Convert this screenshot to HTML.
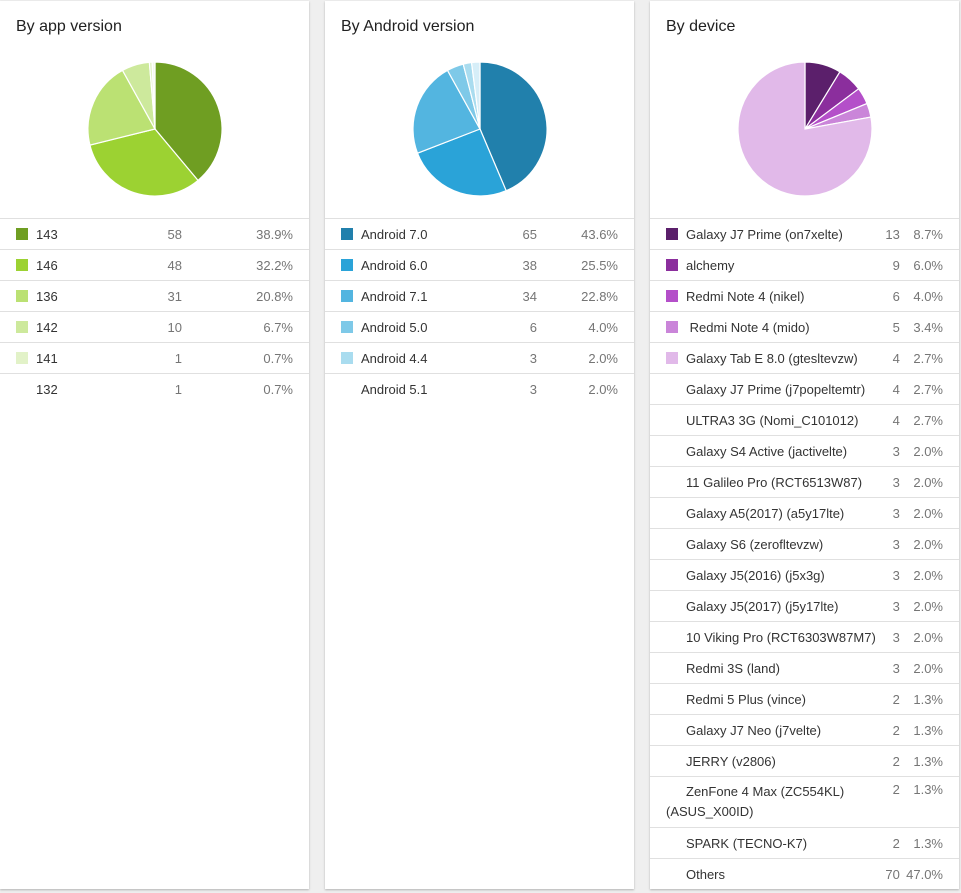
<!DOCTYPE html>
<html><head><style>
body{margin:0;width:961px;height:893px;background:#efefef;font-family:"Liberation Sans",Arial,sans-serif;position:relative;overflow:hidden}
.card{position:absolute;top:1px;width:309px;height:888px;background:#fff;box-shadow:0 1px 2px rgba(0,0,0,.25)}
.t{position:absolute;left:16px;top:17px;font-size:16px;color:#212121}
svg.p{position:absolute;left:88px;top:61px}
table{position:absolute;top:217px;left:0;width:309px;border-collapse:collapse;font-size:13px}
td{border-top:1px solid #e0e0e0;height:30px;padding:0;color:#757575}
td.l{color:#333;padding-left:36px;position:relative;white-space:nowrap}
td.l i{position:absolute;left:16px;top:9px;width:12px;height:12px}
td.n{text-align:right}
</style></head><body>
<div class="card" style="left:0"><div class="t">By app version</div><svg class="p" width="134" height="134" id="p1"></svg>
<table id="t1"></table></div>
<div class="card" style="left:325px"><div class="t">By Android version</div><svg class="p" width="134" height="134" id="p2"></svg>
<table id="t2"></table></div>
<div class="card" style="left:650px"><div class="t">By device</div><svg class="p" width="134" height="134" id="p3"></svg>
<table id="t3"></table></div>
<script>
function pie(id,vals,cols){var s=vals.reduce((a,b)=>a+b,0),a=0,h='';
vals.forEach((v,i)=>{var a1=a+v/s*2*Math.PI;var x0=67+67*Math.sin(a),y0=67-67*Math.cos(a),x1=67+67*Math.sin(a1),y1=67-67*Math.cos(a1);
h+='<path d="M67 67L'+x0+' '+y0+'A67 67 0 '+(a1-a>Math.PI?1:0)+' 1 '+x1+' '+y1+'Z" fill="'+cols[i]+'" stroke="#fff" stroke-width="1.2"/>';a=a1;});
document.getElementById(id).innerHTML=h;}
function tab(id,rows,cw,pw){var h='';rows.forEach(r=>{h+='<tr><td class="l"'+(r[3]?' style="height:50px;line-height:20px;white-space:normal"':'')+'>'+(r[0]?'<i style="background:'+r[0]+'"></i>':'')+r[1]+'</td><td class="n" style="width:'+cw+'px">'+r[2]+'</td><td class="n" style="width:'+pw+'px;padding-right:16px">'+r[4]+'</td></tr>';});
document.getElementById(id).innerHTML=h;}
var c1=['#6f9e22','#9cd232','#bbe173','#cde99c','#e2f2c8','#f4f9ec'];
pie('p1',[58,48,31,10,1,1],c1);
tab('t1',[[c1[0],'143',58,0,'38.9%'],[c1[1],'146',48,0,'32.2%'],[c1[2],'136',31,0,'20.8%'],[c1[3],'142',10,0,'6.7%'],[c1[4],'141',1,0,'0.7%'],['','132',1,0,'0.7%']],90,111);
var c2=['#2180ac','#2aa3d8','#53b5e0','#7ec9e8','#a9dcef','#d6eef8'];
pie('p2',[65,38,34,6,3,3],c2);
tab('t2',[[c2[0],'Android 7.0',65,0,'43.6%'],[c2[1],'Android 6.0',38,0,'25.5%'],[c2[2],'Android 7.1',34,0,'22.8%'],[c2[3],'Android 5.0',6,0,'4.0%'],[c2[4],'Android 4.4',3,0,'2.0%'],['','Android 5.1',3,0,'2.0%']],90,81);
var c3=['#5b1f6b','#8b2e9d','#b44fc9','#ca85d9','#e1b9e9'];
pie('p3',[13,9,6,5,116],c3);
tab('t3',[[c3[0],'Galaxy J7 Prime (on7xelte)',13,0,'8.7%'],[c3[1],'alchemy',9,0,'6.0%'],[c3[2],'Redmi Note 4 (nikel)',6,0,'4.0%'],[c3[3],'&nbsp;Redmi Note 4 (mido)',5,0,'3.4%'],[c3[4],'Galaxy Tab E 8.0 (gtesltevzw)',4,0,'2.7%'],
['','Galaxy J7 Prime (j7popeltemtr)',4,0,'2.7%'],['','ULTRA3 3G (Nomi_C101012)',4,0,'2.7%'],['','Galaxy S4 Active (jactivelte)',3,0,'2.0%'],['','11 Galileo Pro (RCT6513W87)',3,0,'2.0%'],['','Galaxy A5(2017) (a5y17lte)',3,0,'2.0%'],['','Galaxy S6 (zerofltevzw)',3,0,'2.0%'],['','Galaxy J5(2016) (j5x3g)',3,0,'2.0%'],['','Galaxy J5(2017) (j5y17lte)',3,0,'2.0%'],['','10 Viking Pro (RCT6303W87M7)',3,0,'2.0%'],['','Redmi 3S (land)',3,0,'2.0%'],['','Redmi 5 Plus (vince)',2,0,'1.3%'],['','Galaxy J7 Neo (j7velte)',2,0,'1.3%'],['','JERRY (v2806)',2,0,'1.3%'],['','ZenFone 4 Max (ZC554KL)<br><span style="margin-left:-20px">(ASUS_X00ID)</span>',2,1,'1.3%'],['','SPARK (TECNO-K7)',2,0,'1.3%'],['','Others',70,0,'47.0%']],30,47);
var r=document.querySelectorAll('#t3 tr')[18];r.children[1].style.verticalAlign='top';r.children[2].style.verticalAlign='top';r.children[1].style.paddingTop='5px';r.children[2].style.paddingTop='5px';
</script>
</body></html>
